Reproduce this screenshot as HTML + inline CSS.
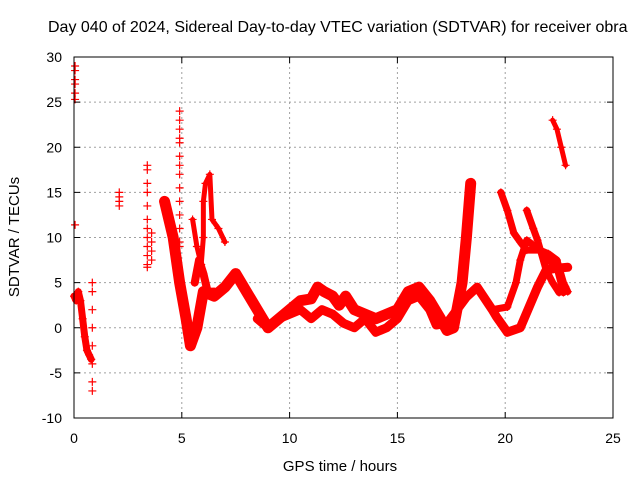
<!DOCTYPE html>
<html><head><meta charset="utf-8"><style>
body{margin:0;background:#fff;}
svg text{font-family:"Liberation Sans",sans-serif;fill:#000;}
</style></head><body>
<svg id="chart" width="640" height="480" xmlns="http://www.w3.org/2000/svg">
<rect width="640" height="480" fill="#fff"/>
<text x="48" y="32" font-size="16">Day 040 of 2024, Sidereal Day-to-day VTEC variation (SDTVAR) for receiver obra</text>
<g id="grid"></g>
<g id="marks"></g>
<rect x="74" y="57" width="539" height="361" fill="none" stroke="#000" stroke-width="1"/>
<g id="ticks"></g>
<text x="340" y="471" font-size="15" text-anchor="middle">GPS time / hours</text>
<text transform="translate(19,237) rotate(-90)" font-size="15" text-anchor="middle">SDTVAR / TECUs</text>
</svg>
<script>
const xTicks=[0,5,10,15,20,25];
const yTicks=[-10,-5,0,5,10,15,20,25,30];
const trackMainH=[4.2,4.6,4.9,5.2,5.4,5.7,6.0,6.5,7.0,7.5,8.0,8.5,9.0,9.5,10.0,10.5,11.0,11.3,11.6,12.0,12.3,12.6,13.0,13.5,14.0,14.5,15.0,15.5,16.0,16.5,17.0,17.3,17.6,18.0,18.2,18.4];
const trackMainV=[14,10,5,1,-2,0,4,3.5,4.5,6,4,2,0,1,2,3,3.2,4.5,4,3.5,2.5,3.5,2,1.5,1,1.5,2,4,4.5,3,1,-0.3,0,5,10,16];
const trackLowH=[8.5,9.0,9.5,10.0,10.5,11.0,11.5,12.0,12.5,13.0,13.5,14.0,14.5,15.0,15.5,16.0,16.5,16.8,17.3,18.2,18.7,19.4,19.6,20.1,20.7,21.5,21.9,22.4,22.9];
const trackLowV=[1,0,1,1.5,2,1,2,1.5,0.5,0,1,-0.5,0,1,3,3.5,2,0.3,0.5,3.4,4.5,2,1.2,-0.5,0,4.5,6.4,6.6,6.7];
const trackRiseH=[19.4,20.1,20.5,20.7,21.0,21.6,22.0,22.4,22.7,22.9];
const trackRiseV=[2,2.3,5,7.5,9.7,8.6,8.2,7.5,5,4];
const trackFallH=[19.8,20.1,20.4,20.7,21.0,21.6,22.0,22.4,22.7];
const trackFallV=[15,13,10.5,9.5,8.6,8.6,7.5,6.7,3.9];
const trackSideH=[21.0,21.3,21.5,21.9,22.2,22.5,22.8];
const trackSideV=[13,11,9.7,6.4,5,3.9,4.5];
const trackTopH=[22.2,22.4,22.6,22.8];
const trackTopV=[23,22,20,18];
const trackEarlyH=[0,0.1,0.2,0.3,0.4,0.5,0.6,0.7,0.8];
const trackEarlyV=[3.5,3,4,3,1,-1,-2.5,-3,-3.5];
const trackSpikeH=[5.5,5.7,5.9,6.0,6.0,6.1,6.3,6.4,6.7,7.0];
const trackSpikeV=[12,9,7,10,14,16,17,12,11,9.5];
const trackSmallH=[5.6,5.8,6.0,6.2,6.5];
const trackSmallV=[5,7.5,6,4,4];
const scatterH=[0.05,0.05,0.05,0.05,0.05,0.05,0.05,0.85,0.85,0.85,0.85,0.85,0.85,0.85,0.85,2.1,2.1,2.1,2.1,3.4,3.4,3.4,3.4,3.4,3.4,3.4,3.4,3.4,3.4,3.4,3.4,3.6,3.6,3.6,3.6,4.9,4.9,4.9,4.9,4.9,4.9,4.9,4.9,4.9,4.9,4.9,4.9,4.9,4.9];
const scatterV=[29,28.5,27.5,27,26,25.3,11.4,5,4,2,0,-2,-4,-6,-7,15,14.5,14,13.5,18,17.5,16,15,13.5,12,11,10,9,8,7,6.7,10.5,9.5,8.5,7.5,24,23,22,21,20.5,19,18,17,15.5,14,12.5,11,9.5,9];

const X0=74,X1=613,Y0=418,Y1=57;
const sx=h=>X0+(h-0)/(25-0)*(X1-X0);
const sy=v=>Y0-(v+10)/40*(Y0-Y1);
const NS="http://www.w3.org/2000/svg";
const grid=document.getElementById('grid'),marks=document.getElementById('marks'),ticks=document.getElementById('ticks');
function mk(tag,attrs,parent){const e=document.createElementNS(NS,tag);for(const k in attrs)e.setAttribute(k,attrs[k]);parent.appendChild(e);return e;}
xTicks.forEach(t=>{
  const x=sx(t);
  if(t>0&&t<25){const g=mk('line',{x1:x,x2:x,y1:Y1,y2:Y0,stroke:'#a0a0a0','stroke-dasharray':'2,3'},grid);
  
  }
  mk('line',{x1:x,x2:x,y1:Y0,y2:Y0-6,stroke:'#000'},ticks);
  mk('line',{x1:x,x2:x,y1:Y1,y2:Y1+6,stroke:'#000'},ticks);
  const l=mk('text',{x:x,y:443,'font-size':14,'text-anchor':'middle'},ticks);l.textContent=t;
  
  
});
yTicks.forEach(t=>{
  const y=sy(t);
  if(t>-10&&t<30){const g=mk('line',{x1:X0,x2:X1,y1:y,y2:y,stroke:'#a0a0a0','stroke-dasharray':'2,3'},grid);
  
  }
  mk('line',{x1:X0,x2:X0+6,y1:y,y2:y,stroke:'#000'},ticks);
  mk('line',{x1:X1,x2:X1-6,y1:y,y2:y,stroke:'#000'},ticks);
  const l=mk('text',{x:62,y:y+5,'font-size':14,'text-anchor':'end'},ticks);l.textContent=t;
  
  
});
function plus(h,v){
  const x=sx(h),y=sy(v);
  const p=mk('path',{d:`M${x-4},${y}H${x+4}M${x},${y-4}V${y+4}`,stroke:'#f00','stroke-width':1.2,fill:'none'},marks);
  
  
}
function track(H,V,name,w){
  const pts=H.map((h,i)=>sx(h)+','+sy(V[i])).join(' ');
  const pl=mk('polyline',{points:pts,fill:'none',stroke:'#f00','stroke-width':w,'stroke-linejoin':'round','stroke-linecap':'round'},marks);
  
  
  H.forEach((h,i)=>plus(h,V[i]));
}
track(trackMainH,trackMainV,'series-main-track',11);
track(trackLowH,trackLowV,'series-low-track',9);
track(trackRiseH,trackRiseV,'series-rise-track',7);
track(trackFallH,trackFallV,'series-fall-track',7);
track(trackSideH,trackSideV,'series-side-track',7);
track(trackTopH,trackTopV,'series-top-track',5);
track(trackEarlyH,trackEarlyV,'series-early-track',7);
track(trackSpikeH,trackSpikeV,'series-spike-track',5);
track(trackSmallH,trackSmallV,'series-small-track',8);
scatterH.forEach((h,i)=>plus(h,scatterV[i]));
</script>
</body></html>
